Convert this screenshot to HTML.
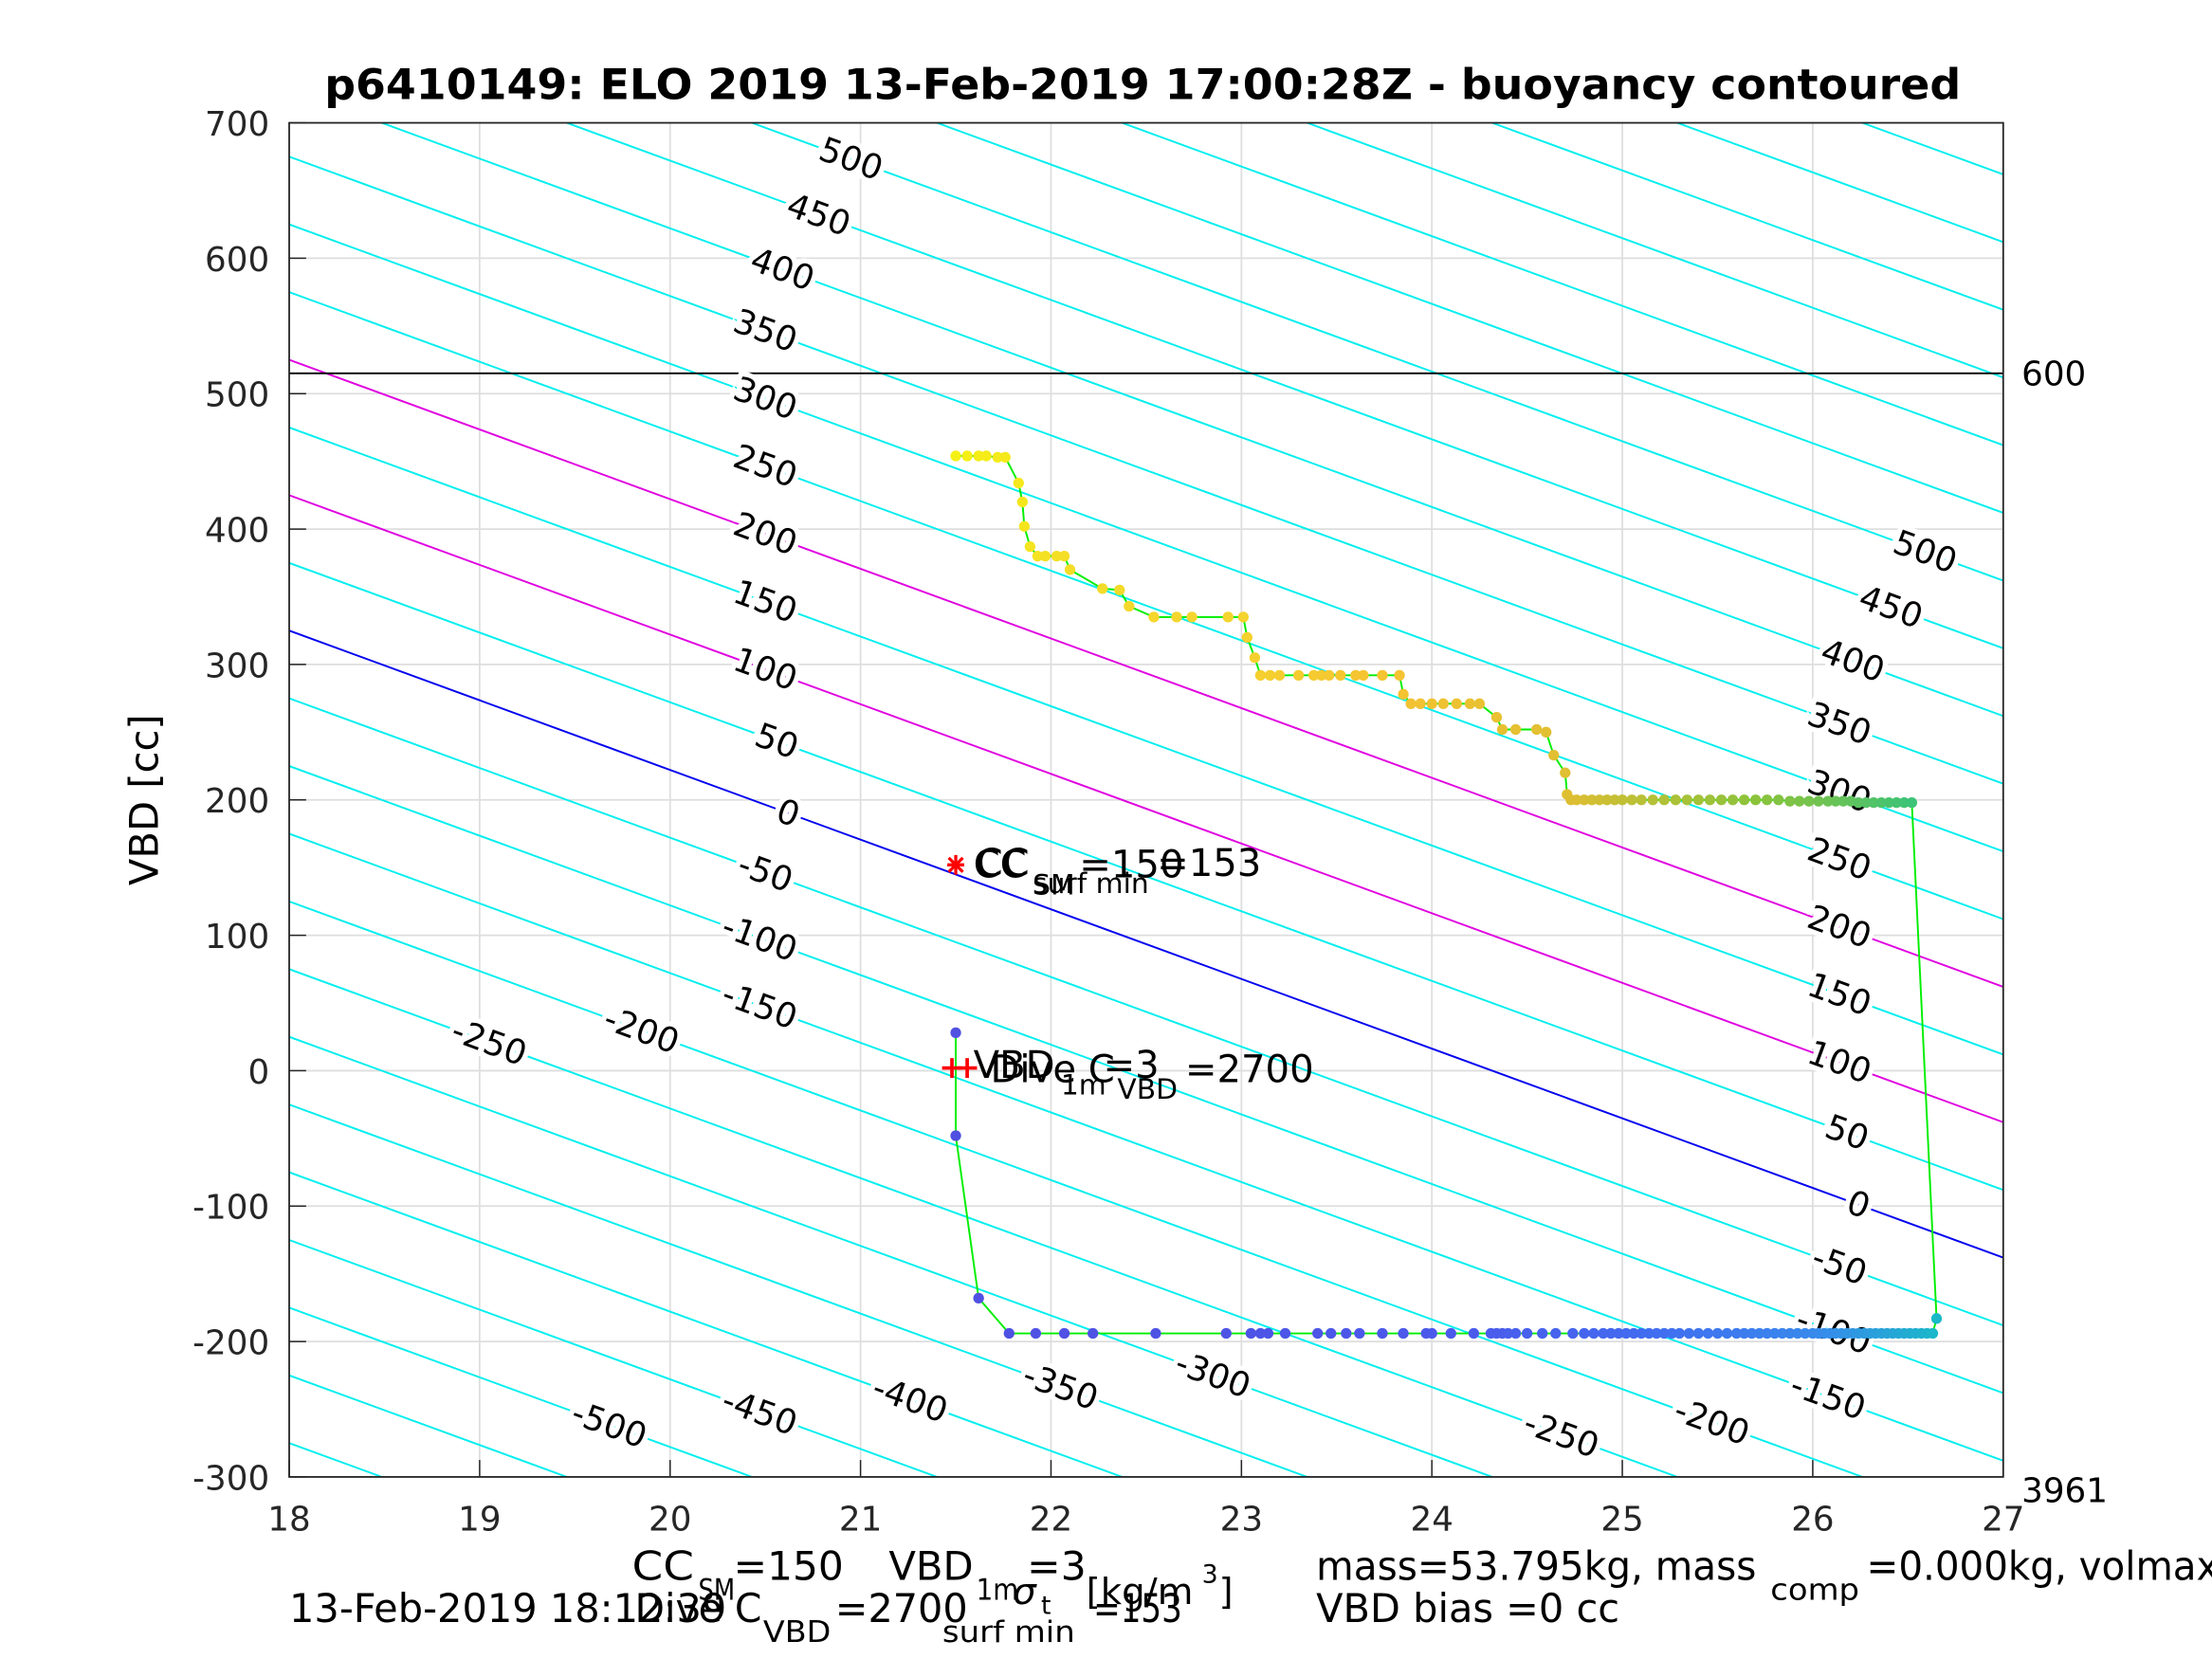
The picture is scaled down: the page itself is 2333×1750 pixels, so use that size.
<!DOCTYPE html>
<html><head><meta charset="utf-8"><style>
html,body{margin:0;padding:0;background:#fff;overflow:hidden;width:2333px;height:1750px;}
svg{display:block;}
text{font-family:"DejaVu Sans","Liberation Sans",sans-serif;fill:#000;}
.tk{font-size:24px;fill:#262626;}
.cl{font-size:24px;paint-order:stroke;stroke:#fff;stroke-width:7px;}
.bt{font-family:"DejaVu Sans Condensed","DejaVu Sans",sans-serif;font-size:28px;}
.sb{font-family:"DejaVu Sans Condensed","DejaVu Sans",sans-serif;font-size:21px;}
</style></head><body>
<svg id="chart" width="2333" height="1750" viewBox="0 0 1568 1176" xmlns="http://www.w3.org/2000/svg">
<rect x="0" y="0" width="1568" height="1176" fill="#fff"/>
<text x="810" y="70" text-anchor="middle" font-weight="bold" font-size="30" textLength="1160" lengthAdjust="spacingAndGlyphs">p6410149: ELO 2019 13-Feb-2019 17:00:28Z - buoyancy contoured</text>
<defs><clipPath id="pc"><rect x="205" y="87" width="1215" height="960"/></clipPath></defs>
<rect x="205" y="87" width="1215" height="960" fill="#fff"/>
<g id="grid"></g>
<g id="contours" clip-path="url(#pc)"></g>
<g id="clabels"></g>
<g id="traj" clip-path="url(#pc)"></g>
<g id="axes"></g>
<text transform="translate(112,567) rotate(-90)" text-anchor="middle" font-size="28" fill="#262626">VBD [cc]</text>
<text x="1433" y="273" font-size="24">600</text>
<text x="1433" y="1065" font-size="24">3961</text>
<g>
<text x="690" y="622" font-size="27">CC</text><text x="732" y="634" font-size="20">SM</text><text x="765" y="622" font-size="27">=150</text>
<text x="692" y="621" font-size="27">CC</text><text x="732" y="633" font-size="20">surf min</text><text x="820" y="621" font-size="27">=153</text>
</g>
<g>
<text x="690" y="764" font-size="27">VBD</text><text x="752" y="776" font-size="20">1m</text><text x="782" y="764" font-size="27">=3</text>
<text x="702" y="767" font-size="27">Dive C</text><text x="792" y="779" font-size="20">VBD</text><text x="840" y="767" font-size="27">=2700</text>
</g>
<g>
<text x="718" y="1137" font-size="26" font-style="italic" fill="#262626">σ</text><text x="738" y="1144" font-size="18" fill="#262626">t</text>
<text x="770" y="1137" font-size="26" fill="#262626">[kg/m</text><text x="852" y="1122" font-size="18" fill="#262626">3</text><text x="864" y="1137" font-size="26" fill="#262626">]</text>
</g>
<g>
<text class="bt" x="448" y="1120" textLength="44" lengthAdjust="spacingAndGlyphs">CC</text><text class="sb" x="495" y="1134" textLength="26" lengthAdjust="spacingAndGlyphs">SM</text><text class="bt" x="520" y="1120" textLength="78" lengthAdjust="spacingAndGlyphs">=150</text>
<text class="bt" x="630" y="1120" textLength="60" lengthAdjust="spacingAndGlyphs">VBD</text><text class="sb" x="692" y="1134" textLength="30" lengthAdjust="spacingAndGlyphs">1m</text><text class="bt" x="728" y="1120" textLength="42" lengthAdjust="spacingAndGlyphs">=3</text>
<text class="bt" x="205" y="1150" textLength="310" lengthAdjust="spacingAndGlyphs">13-Feb-2019 18:12:39</text>
<text class="bt" x="450" y="1150" textLength="90" lengthAdjust="spacingAndGlyphs">Dive C</text><text class="sb" x="541" y="1164" textLength="48" lengthAdjust="spacingAndGlyphs">VBD</text><text class="bt" x="592" y="1150" textLength="94" lengthAdjust="spacingAndGlyphs">=2700</text>
<text class="sb" x="668" y="1164" textLength="94" lengthAdjust="spacingAndGlyphs">surf min</text><text class="bt" x="775" y="1150" textLength="63" lengthAdjust="spacingAndGlyphs">=153</text>
<text class="bt" x="933" y="1120" textLength="312" lengthAdjust="spacingAndGlyphs">mass=53.795kg, mass</text><text class="sb" x="1255" y="1134" textLength="63" lengthAdjust="spacingAndGlyphs">comp</text><text class="bt" x="1323" y="1120" textLength="250" lengthAdjust="spacingAndGlyphs">=0.000kg, volmax</text>
<text class="bt" x="933" y="1150" textLength="215" lengthAdjust="spacingAndGlyphs">VBD bias =0 cc</text>
</g>
<script>
// ---- data ----
const xTicks = [18,19,20,21,22,23,24,25,26,27];
const yTicks = [-300,-200,-100,0,100,200,300,400,500,600,700];
const contourLevels = [-650,-600,-550,-500,-450,-400,-350,-300,-250,-200,-150,-100,-50,0,50,100,150,200,250,300,350,400,450,500,550,600,650,700,750,800,850];
const magentaLevels = [100,200];
const blackLineVBD = 515;
const contourSlope = -51.45;
const contourOffset = 325;
const labelLeftLevels = [500,450,400,350,300,250,200,150,100,50,0,-50,-100,-150,-200,-250];
const labelLeftSigma = [20.95,20.78,20.59,20.5,20.5,20.5,20.5,20.5,20.5,20.56,20.62,20.5,20.47,20.47,19.85,19.05];
const labelBotLevels = [-500,-450,-400,-350,-300,-250,-200,-150,-100,-50,0,50,100,150,200,250,300,350,400,450,500];
const labelBotSigma = [19.68,20.47,21.26,22.05,22.85,24.68,25.47,26.08,26.11,26.14,26.24,26.18,26.14,26.14,26.14,26.14,26.14,26.14,26.21,26.41,26.59];
const descSigma = [21.50,21.56,21.62,21.66,21.72,21.76,21.83,21.85,21.86,21.89,21.93,21.97,22.03,22.07,22.10,22.27,22.36,22.41,22.54,22.66,22.74,22.93,23.01,23.03,23.07,23.10,23.15,23.20,23.30,23.38,23.42,23.46,23.52,23.60,23.64,23.74,23.83,23.85,23.89,23.94,24.00,24.06,24.13,24.20,24.25,24.34,24.37,24.44,24.55,24.60,24.64,24.70,24.71,24.73,24.76,24.80,24.84,24.88,24.92,24.96,25.00,25.05,25.10,25.16,25.22,25.28,25.34,25.40,25.46,25.52,25.58,25.64,25.70,25.76,25.82,25.88,25.93,25.98,26.03,26.08,26.12,26.16,26.20,26.24,26.28,26.32,26.36,26.40,26.44,26.48,26.52];
const descVBD = [454,454,454,454,453,453,434,420,402,387,380,380,380,380,370,356,355,343,335,335,335,335,335,320,305,292,292,292,292,292,292,292,292,292,292,292,292,278,271,271,271,271,271,271,271,261,252,252,252,250,233,220,204,200,200,200,200,200,200,200,200,200,200,200,200,200,200,200,200,200,200,200,200,200,200,199,199,199,199,199,199,199,199,198,198,198,198,198,198,198,198];
const ascSigma = [26.65,26.63,26.60,26.57,26.54,26.51,26.48,26.45,26.42,26.39,26.36,26.33,26.30,26.27,26.24,26.21,26.18,26.15,26.12,26.09,26.06,26.03,26.00,25.96,25.92,25.88,25.84,25.80,25.76,25.72,25.68,25.64,25.60,25.55,25.50,25.45,25.40,25.35,25.30,25.26,25.22,25.18,25.14,25.10,25.06,25.02,24.98,24.94,24.90,24.85,24.80,24.74,24.65,24.58,24.50,24.44,24.40,24.37,24.34,24.31,24.22,24.10,24.00,23.97,23.85,23.74,23.62,23.55,23.47,23.40,23.23,23.14,23.10,23.05,22.92,22.55,22.22,22.07,21.92,21.78,21.62,21.50,21.50];
const ascVBD = [-183,-194,-194,-194,-194,-194,-194,-194,-194,-194,-194,-194,-194,-194,-194,-194,-194,-194,-194,-194,-194,-194,-194,-194,-194,-194,-194,-194,-194,-194,-194,-194,-194,-194,-194,-194,-194,-194,-194,-194,-194,-194,-194,-194,-194,-194,-194,-194,-194,-194,-194,-194,-194,-194,-194,-194,-194,-194,-194,-194,-194,-194,-194,-194,-194,-194,-194,-194,-194,-194,-194,-194,-194,-194,-194,-194,-194,-194,-194,-194,-168,-48,28];
const ccSigma = [21.50], ccVBD = [152];
const vbdSigma = [21.48,21.56], vbdVBD = [2,2];

const X0=205,X1=1420,Y0=87,Y1=1047;
function sx(s){return X0+(s-18)/9*(X1-X0);}
function sy(v){return Y1-(v+300)/1000*(Y1-Y0);}
function contourV(k,s){return contourOffset+k+contourSlope*(s-18);}
const NS="http://www.w3.org/2000/svg";
function mk(tag,attrs,parent){const e=document.createElementNS(NS,tag);for(const k in attrs)e.setAttribute(k,attrs[k]);parent.appendChild(e);return e;}
const grid=document.getElementById('grid'),axes=document.getElementById('axes');
xTicks.forEach(t=>{
  const l=mk('line',{x1:sx(t),x2:sx(t),y1:Y0,y2:Y1,stroke:'#dedede','stroke-width':1.2},grid);
  
  
  const tk=mk('line',{x1:sx(t),x2:sx(t),y1:Y1,y2:Y1-12,stroke:'#262626','stroke-width':1},axes);
  
  
  const tx=mk('text',{x:sx(t),y:Y1+38,'text-anchor':'middle',class:'tk'},axes);
  tx.textContent=t;
  
  
});
yTicks.forEach(t=>{
  const l=mk('line',{x1:X0,x2:X1,y1:sy(t),y2:sy(t),stroke:'#dedede','stroke-width':1.2},grid);
  
  
  const tk=mk('line',{x1:X0,x2:X0+12,y1:sy(t),y2:sy(t),stroke:'#262626','stroke-width':1},axes);
  
  
  const tx=mk('text',{x:X0-14,y:sy(t)+9,'text-anchor':'end',class:'tk'},axes);
  tx.textContent=t;
  
  
});
const box=mk('rect',{x:X0,y:Y0,width:X1-X0,height:Y1-Y0,fill:'none',stroke:'#262626','stroke-width':1.2},axes);



const cg=document.getElementById('contours');
contourLevels.forEach(k=>{
  let col='#00eeee';
  if(k===0)col='#0000ee';
  else if(magentaLevels.includes(k))col='#e000e0';
  const l=mk('line',{x1:sx(18),y1:sy(contourV(k,18)),x2:sx(27),y2:sy(contourV(k,27)),stroke:col,'stroke-width':1.3},cg);
  
  
});
const bl=mk('line',{x1:X0,x2:X1,y1:sy(blackLineVBD),y2:sy(blackLineVBD),stroke:'#000','stroke-width':1.2},cg);



const ang=Math.atan2(-contourSlope*(Y1-Y0)/1000,(X1-X0)/9)*180/Math.PI;
const lg=document.getElementById('clabels');
function addLabel(k,s){
  const x=sx(s),y=sy(contourV(k,s));
  const t=mk('text',{x:x,y:y+8,'text-anchor':'middle',class:'cl',transform:`rotate(${ang} ${x} ${y})`},lg);
  t.textContent=k;
  
  
}
labelLeftLevels.forEach((k,i)=>addLabel(k,labelLeftSigma[i]));
labelBotLevels.forEach((k,i)=>addLabel(k,labelBotSigma[i]));

const tg=document.getElementById('traj');
function lerpC(stops,f){
  f=Math.max(0,Math.min(1,f));const n=stops.length-1;const i=Math.min(n-1,Math.floor(f*n));const g=f*n-i;
  const a=stops[i],b=stops[i+1];return `rgb(${a.map((v,j)=>Math.round(v+(b[j]-v)*g)).join(',')})`;
}
const descStops=[[245,240,20],[245,215,45],[245,195,50],[220,190,50],[140,195,60],[60,195,120]];
const ascStops=[[25,185,200],[55,140,235],[65,110,240],[75,90,235],[80,80,225]];
let pts=descSigma.map((s,i)=>sx(s)+','+sy(descVBD[i])).concat(ascSigma.map((s,i)=>sx(s)+','+sy(ascVBD[i])));
const pl=mk('polyline',{points:pts.join(' '),fill:'none',stroke:'#00ee00','stroke-width':1.3},tg);


descSigma.forEach((s,i)=>{
  const c=mk('circle',{cx:sx(s),cy:sy(descVBD[i]),r:3.8,fill:lerpC(descStops,i/(descSigma.length-1))},tg);
  
  
});
ascSigma.forEach((s,i)=>{
  const c=mk('circle',{cx:sx(s),cy:sy(ascVBD[i]),r:3.8,fill:lerpC(ascStops,i/(ascSigma.length-1))},tg);
  
  
});
ccSigma.forEach((s,i)=>{
  const x=sx(s),y=sy(ccVBD[i]);
  const g=mk('g',{stroke:'#ff0000','stroke-width':2.2},tg);
  
  
  mk('line',{x1:x-6,x2:x+6,y1:y,y2:y},g);mk('line',{x1:x,x2:x,y1:y-7,y2:y+7},g);
  mk('line',{x1:x-5,x2:x+5,y1:y-5,y2:y+5},g);mk('line',{x1:x-5,x2:x+5,y1:y+5,y2:y-5},g);
});
vbdSigma.forEach((s,i)=>{
  const x=sx(s),y=sy(vbdVBD[i]);
  const g=mk('g',{stroke:'#ff0000','stroke-width':2.5},tg);
  
  
  mk('line',{x1:x-7,x2:x+7,y1:y,y2:y},g);mk('line',{x1:x,x2:x,y1:y-7,y2:y+7},g);
});
</script>
</svg>
</body></html>
